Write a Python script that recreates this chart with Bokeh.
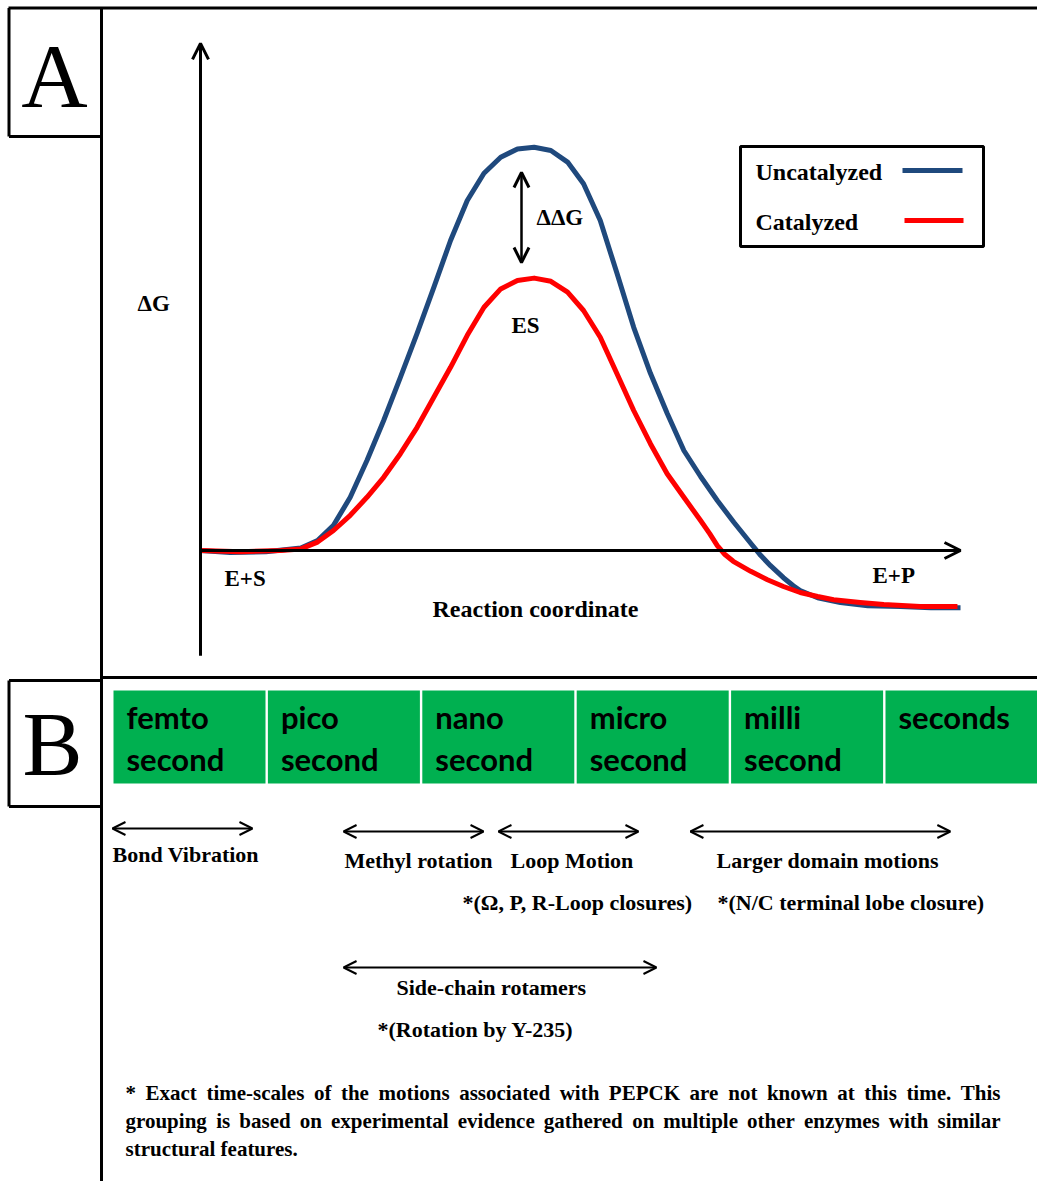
from bokeh.plotting import figure
from bokeh.models import Range1d, Arrow, OpenHead, Label
from bokeh.embed import file_html
from bokeh.resources import INLINE
from bokeh.core.properties import value

# ---------------- data ----------------
# Panel A: free-energy profiles (reaction coordinate 0..10, dG arbitrary units)
unc_rc = [0, 0.39, 0.86, 1.32, 1.54, 1.75, 1.97, 2.19, 2.41, 2.63, 2.85, 3.07, 3.29,
          3.51, 3.73, 3.95, 4.17, 4.39, 4.61, 4.83, 5.04, 5.26, 5.48, 5.70, 5.92, 6.14,
          6.36, 6.58, 6.80, 7.02, 7.24, 7.37, 7.5, 7.67, 7.8, 7.89, 8.12, 8.42, 8.78,
          9.21, 9.61, 10.0]
unc_dG = [0, -0.05, -0.03, 0.06, 0.25, 0.63, 1.33, 2.25, 3.25, 4.33, 5.43, 6.58, 7.75,
          8.75, 9.43, 9.83, 10.04, 10.08, 10.0, 9.71, 9.17, 8.25, 6.93, 5.58, 4.43, 3.43,
          2.5, 1.85, 1.25, 0.7, 0.18, -0.12, -0.38, -0.68, -0.88, -1.0, -1.18, -1.3, -1.38,
          -1.4, -1.43, -1.43]
cat_rc = [0, 0.53, 1.05, 1.32, 1.54, 1.75, 1.97, 2.19, 2.41, 2.63, 2.85, 3.07, 3.29,
          3.51, 3.73, 3.95, 4.17, 4.39, 4.61, 4.83, 5.04, 5.26, 5.48, 5.70, 5.92, 6.14,
          6.36, 6.58, 6.7, 6.8, 6.9, 7.01, 7.24, 7.46, 7.67, 7.89, 8.12, 8.33, 8.68, 8.99,
          9.47, 9.96]
cat_dG = [0, -0.03, 0, 0.04, 0.21, 0.5, 0.88, 1.33, 1.83, 2.42, 3.08, 3.83, 4.58,
          5.38, 6.08, 6.54, 6.75, 6.81, 6.73, 6.46, 6.0, 5.33, 4.42, 3.5, 2.67, 1.92,
          1.33, 0.75, 0.42, 0.12, -0.1, -0.27, -0.52, -0.73, -0.9, -1.05, -1.15, -1.23,
          -1.3, -1.35, -1.4, -1.4]

# Panel B: time scales (log10 seconds, 3 decades per box)
scale_names = ["femto", "pico", "nano", "micro", "milli", "seconds"]
scale_line2 = ["second", "second", "second", "second", "second", ""]
scale_start = [-15, -12, -9, -6, -3, 0]

motion_labels = ["Bond Vibration", "Methyl rotation", "Loop Motion",
                 "Larger domain motions", "Side-chain rotamers"]
motion_start = [-15.02, -10.53, -7.52, -3.79, -10.53]
motion_end = [-12.3, -7.81, -4.8, 1.26, -4.45]

footnote = ["* Exact time-scales of the motions associated with PEPCK are not known at this time. This",
            "grouping is based on experimental evidence gathered on multiple other enzymes with similar",
            "structural features."]
footnote_justified = [True, True, False]

# ---------------- layout constants (reference pixel space) ----------------
W, H = 1037, 1181
X0, Y0 = 0, 0
RC_PX0, RC_PX_PER = 200, 76      # reaction coordinate mapping
DG_PX0, DG_PX_PER = 550, 40      # dG mapping
TS_PX0, TS_PX_PER = 113, 154.4 / 3

SERIF = "Liberation Serif"
BLUE = "#1F497D"
RED = "#FF0000"
GREEN = "#00B050"
BASE_SHIFT = 0.35   # em correction so that y is the visual baseline

p = figure(width=W, height=H, x_range=Range1d(X0, X0 + W), y_range=Range1d(Y0 + H, Y0),
           output_backend="svg", toolbar_location=None,
           x_axis_location=None, y_axis_location=None, min_border=0)
p.grid.visible = False
p.outline_line_color = None
p.background_fill_color = "white"

p.extra_x_ranges = {
    "rc": Range1d((X0 - RC_PX0) / RC_PX_PER, (X0 + W - RC_PX0) / RC_PX_PER),
    "ts": Range1d((X0 - TS_PX0) / TS_PX_PER - 15, (X0 + W - TS_PX0) / TS_PX_PER - 15),
}
p.extra_y_ranges = {
    "dg": Range1d((DG_PX0 - (Y0 + H)) / DG_PX_PER, (DG_PX0 - Y0) / DG_PX_PER),
}

# ---------------- frame lines ----------------
frame_segments = [
    (8, 7.5, 1037, 7.5),        # top line
    (101, 7.5, 101, 1181),      # vertical divider
    (8.5, 7.5, 8.5, 136),       # A box left
    (8.5, 136, 101, 136),       # A box bottom
    (101, 677, 1037, 677),      # panel separator
    (8.5, 680, 101, 680),       # B box top
    (8.5, 680, 8.5, 806),       # B box left
    (8.5, 806, 101, 806),       # B box bottom
]
p.segment(x0=[s[0] for s in frame_segments], y0=[s[1] for s in frame_segments],
          x1=[s[2] for s in frame_segments], y1=[s[3] for s in frame_segments],
          line_color="black", line_width=3)

def lab(x, y, text, size, bold=True, align="left", font=SERIF):
    p.add_layout(Label(x=x, y=y - BASE_SHIFT * size, text=text, text_font=font,
                       text_font_style="bold" if bold else "normal",
                       text_font_size=f"{size}px", text_align=align,
                       text_baseline="alphabetic", text_color="black"))

# Times-Bold advance widths (per 1000 em) for justification
_TB = {' ': 250, '*': 500, '-': 333, '.': 250, ',': 250}
_TB.update(dict(zip("ABCDEFGHIJKLMNOPQRSTUVWXYZ",
                    [722, 667, 722, 722, 667, 611, 778, 778, 389, 500, 778, 667, 944,
                     722, 778, 611, 778, 722, 556, 667, 722, 722, 1000, 722, 722, 667])))
_TB.update(dict(zip("abcdefghijklmnopqrstuvwxyz",
                    [500, 556, 444, 556, 444, 333, 500, 556, 278, 333, 556, 278, 833,
                     556, 500, 556, 556, 444, 389, 333, 556, 500, 722, 500, 500, 444])))

def word_w(w, size):
    return sum(_TB.get(c, 500) for c in w) / 1000 * size

lab(54, 108, "A", 92, bold=False, align="center")
lab(52, 775, "B", 90, bold=False, align="center")

# ---------------- panel A ----------------
p.add_layout(Arrow(end=OpenHead(size=16, line_width=3, line_color="black"),
                   x_start=0, y_start=-2.63, x_end=0, y_end=12.68,
                   x_range_name="rc", y_range_name="dg", line_width=3, line_color="black"))
p.add_layout(Arrow(end=OpenHead(size=16, line_width=3, line_color="black"),
                   x_start=0, y_start=0, x_end=10.0, y_end=0,
                   x_range_name="rc", y_range_name="dg", line_width=3, line_color="black"))

p.line(unc_rc, unc_dG, x_range_name="rc", y_range_name="dg",
       line_color=BLUE, line_width=5, line_join="round", line_cap="butt")
p.line(cat_rc, cat_dG, x_range_name="rc", y_range_name="dg",
       line_color=RED, line_width=5, line_join="round", line_cap="butt")

p.add_layout(Arrow(start=OpenHead(size=15, line_width=3, line_color="black"),
                   end=OpenHead(size=15, line_width=3, line_color="black"),
                   x_start=521, y_start=172, x_end=521, y_end=262,
                   line_width=2.5, line_color="black"))

lab(137, 311, "ΔG", 23)
lab(536, 225, "ΔΔG", 23)
lab(511, 333, "ES", 23)
lab(224, 586, "E+S", 23)
lab(872, 583, "E+P", 23)
lab(432, 617, "Reaction coordinate", 24)

# legend box
p.quad(left=[740], right=[983], top=[146], bottom=[246], fill_color=None,
       line_color="black", line_width=3)
p.segment(x0=[902, 904], y0=[170, 220], x1=[962, 963], y1=[170, 220],
          line_color=[BLUE, RED], line_width=5)
lab(755, 180, "Uncatalyzed", 24)
lab(755, 230, "Catalyzed", 24)

# ---------------- panel B ----------------
box_left = scale_start
box_right = [s + 152 / TS_PX_PER for s in scale_start]
p.quad(left=box_left, right=box_right, top=[690] * 6, bottom=[783] * 6,
       x_range_name="ts", fill_color=GREEN, line_color=None)
p.text(x=box_left, y=[728 - 12] * 6, text=scale_names, x_range_name="ts", x_offset=13,
       text_font=value("Lato"), text_font_style="bold", text_font_size="31px",
       text_baseline="alphabetic", text_color="black")
p.text(x=box_left, y=[770 - 12] * 6, text=scale_line2, x_range_name="ts", x_offset=13,
       text_font=value("Lato"), text_font_style="bold", text_font_size="31px",
       text_baseline="alphabetic", text_color="black")

arrow_y = [828, 831, 831, 831, 967]
for s, e, yy in zip(motion_start, motion_end, arrow_y):
    p.add_layout(Arrow(start=OpenHead(size=13, line_width=2, line_color="black"),
                       end=OpenHead(size=13, line_width=2, line_color="black"),
                       x_start=s, y_start=yy, x_end=e, y_end=yy, x_range_name="ts",
                       line_width=2, line_color="black"))

motion_text_pos = [(112, 862), (344, 868), (510, 868), (716, 868), (396, 995)]
for t, (xx, yy) in zip(motion_labels, motion_text_pos):
    lab(xx, yy, t, 22)
lab(462, 910, "*(Ω, P, R-Loop closures)", 22)
lab(717, 910, "*(N/C terminal lobe closure)", 22)
lab(377, 1037, "*(Rotation by Y-235)", 22)

# footnote, first two lines justified between x=125 and x=1000
FN_SIZE, FN_LEFT, FN_RIGHT = 21, 125, 1000
for i, (line, just) in enumerate(zip(footnote, footnote_justified)):
    yy = 1100 + 28 * i
    if not just:
        lab(FN_LEFT, yy, line, FN_SIZE)
        continue
    words = line.split(" ")
    widths = [word_w(w, FN_SIZE) for w in words]
    gap = (FN_RIGHT - FN_LEFT - sum(widths)) / (len(words) - 1)
    xx = FN_LEFT
    for w, ww in zip(words, widths):
        lab(xx, yy, w, FN_SIZE)
        xx += ww + gap

open("out.html", "w").write(file_html(p, INLINE))
